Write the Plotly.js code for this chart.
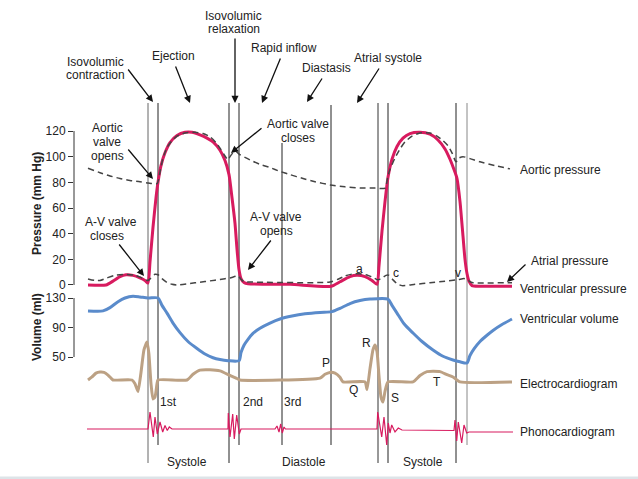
<!DOCTYPE html>
<html><head><meta charset="utf-8">
<script src="https://cdn.plot.ly/plotly-3.0.1.min.js"></script>
<style>html,body{margin:0;padding:0;background:#fff;}#chart{width:638px;height:479px;}</style>
</head><body><div id="chart"></div>
<script>
// ---- data (time in ms) ----
const pressureTicks = [0, 20, 40, 60, 80, 100, 120];
const volumeTicks = [50, 90, 130];

const vpTime = [0, 63, 87.5, 112, 133, 157.5, 182, 199.5, 210, 217, 227.5, 238, 245, 255.5, 269.5, 287, 311.5, 339.5, 364, 392, 416.5, 437.5, 462, 479.5, 493.5, 504, 514.5, 521.5, 528.5, 535.5, 546, 560, 707, 850.5, 882, 917, 941.5, 969.5, 994, 1011.5, 1018.5, 1029, 1039.5, 1050, 1064, 1081.5, 1102.5, 1127, 1162, 1197, 1225, 1249.5, 1267, 1281, 1291.5, 1302, 1312.5, 1319.5, 1326.5, 1333.5, 1344, 1372, 1484];
const vpValue = [0, 0, 3, 6.5, 8, 7.5, 5.5, 3.5, 1.5, 18, 45, 68, 80, 93, 103, 111, 116.5, 119, 119, 117, 114.5, 111.5, 105, 97, 86, 68, 48, 28, 12, 5, 2, 1, 0.5, -1, 2.5, 6.5, 7.5, 6.5, 3.5, 0.5, 15, 42, 65, 84, 98, 108, 114.5, 118, 119, 117.5, 113, 106, 98, 90, 83, 65, 38, 20, 9, 3, -0.5, -1, -1];

const aoTime = [0, 42, 77, 112, 147, 182, 210, 241.5, 252, 262.5, 276.5, 294, 311.5, 339.5, 374.5, 402.5, 427, 448, 465.5, 479.5, 490, 497, 507.5, 518, 532, 567, 602, 637, 672, 707, 752.5, 794.5, 847, 899.5, 952, 1004.5, 1039.5, 1050, 1057, 1074.5, 1092, 1109.5, 1134, 1162, 1197, 1221.5, 1242.5, 1260, 1274, 1288, 1298.5, 1312.5, 1337, 1372, 1424.5, 1477];
const aoValue = [91, 87.5, 85, 83, 81.5, 80.5, 79.5, 79, 88, 99, 107, 112.5, 116, 118.5, 119, 118, 115.5, 111, 105.5, 100.5, 97.5, 100, 103, 104, 101.5, 97.5, 94, 91.5, 88.5, 86, 83, 80.5, 78, 76.5, 75.6, 75.5, 75.5, 85, 90, 99, 106, 111.5, 116, 118.5, 118.5, 116, 112.5, 108.5, 103, 96, 99, 100, 98.5, 96, 93, 90.5];

const laTime = [0, 24.5, 42, 66.5, 94.5, 129.5, 164.5, 189, 210, 220.5, 234.5, 245, 259, 276.5, 294, 311.5, 357, 392, 427, 462, 497, 525, 535.5, 546, 567, 847, 875, 899.5, 924, 952, 980, 1001, 1015, 1029, 1043, 1053.5, 1067.5, 1081.5, 1099, 1144.5, 1197, 1249.5, 1295, 1316, 1326.5, 1337, 1347.5, 1484];
const laValue = [4.7, 3.5, 3.5, 5.5, 7.5, 8.2, 7.5, 5.5, 3.5, 5.5, 8.3, 8, 5, 2, 0.5, 0, 1.2, 2.2, 3.2, 4.3, 5.5, 7, 4.5, 2.5, 2.3, 2.3, 4.5, 7, 8.5, 8.7, 7.5, 5.5, 4, 5.5, 7.5, 7.5, 4, 1, -0.5, 0.5, 1.8, 3, 4.2, 5, 4.5, 2.5, 1.8, 1.8];

const volTime = [0, 52.5, 77, 105, 129.5, 157.5, 182, 210, 245, 259, 276.5, 297.5, 322, 350, 381.5, 409.5, 437.5, 462, 490, 528.5, 535.5, 546, 560, 577.5, 602, 637, 672, 714, 759.5, 812, 854, 882, 917, 952, 987, 1050, 1064, 1081.5, 1106, 1137.5, 1169, 1207.5, 1242.5, 1277.5, 1302, 1326.5, 1337, 1351, 1372, 1396.5, 1417.5, 1449, 1484];
const volValue = [112.5, 112.5, 117, 125, 130, 132.5, 131.5, 130, 130, 120, 109.5, 96, 83, 71, 61.5, 54, 49, 46.5, 45, 45, 56, 66, 74, 82, 89, 96, 101.5, 105.5, 108.5, 110.5, 111.5, 116, 122.5, 126.5, 128.5, 128.5, 120, 109.5, 95, 82.5, 71, 59.5, 51, 46, 43.5, 42, 52, 61, 71, 79.5, 86, 94, 101.5];

const ecgTime = [0, 14, 28, 42, 56, 70, 80.5, 87.5, 154, 164.5, 175, 185.5, 196, 206.5, 213, 220.5, 227.5, 234.5, 241.5, 245, 346.5, 367.5, 392, 427, 462, 497, 521.5, 532, 812, 829.5, 847, 864.5, 882, 892.5, 969.5, 976.5, 987, 997.5, 1004.5, 1011.5, 1018.5, 1025.5, 1032.5, 1039.5, 1050, 1137.5, 1162, 1186.5, 1232, 1256.5, 1277.5, 1302, 1484];
const ecgValue = [0, 0.08, 0.18, 0.21, 0.2, 0.13, 0.05, 0, 0, -0.1, -0.3, 0.2, 0.8, 1.0, 0.7, -0.1, -0.5, -0.45, -0.1, 0, 0, 0.15, 0.26, 0.27, 0.24, 0.12, 0.04, 0, 0.05, 0.15, 0.2, 0.18, 0.07, -0.05, -0.05, -0.25, 0.3, 0.8, 0.92, 0.75, 0.1, -0.45, -0.58, -0.3, -0.05, -0.05, 0.12, 0.22, 0.22, 0.14, 0.08, -0.05, -0.05];

const pcgTime = [-3.5, 210, 217, 228.5, 234.5, 242.5, 252, 261.5, 269.5, 277.5, 284.5, 294, 490, 491, 497, 506.5, 512, 520.5, 529.5, 535.5, 654.5, 661.5, 668.5, 674.5, 680, 686, 691, 1011.5, 1014, 1028, 1036, 1045.5, 1051, 1057, 1063, 1074.5, 1086, 1099, 1281, 1284.5, 1290.5, 1296, 1308, 1316, 1325.5, 1333.5, 1487.5];
const pcgValue = [0, 0, 1.7, -0.8, 1.2, -0.5, 0.7, -0.3, 0.35, -0.15, 0.2, 0, 0, 1.6, -0.8, 1.5, -1, 1.4, -0.5, 0, 0, 0.3, -0.3, 0.5, -0.4, 0.2, 0, 0, 1.7, -0.8, 1.2, -1.6, 0.6, -0.4, 0.4, -0.3, 0.1, -0.1, -0.15, 0.9, -1.2, 0.7, -1.4, 0.4, -0.4, -0.3, -0.3];

const eventTime = [210, 245, 493.5, 528.5, 679, 850.5, 1015, 1050, 1288, 1326.5];

// ---- layout helpers ----
const W = 638, H = 479, ML = 74;
const px = x => (x - ML) / (W - ML);
const py = y => 1 - y / H;
const FONT = 'Liberation Sans, Arial, sans-serif';
const TXT = '#222';
const RED = '#d81b5f';

const eventTop = [103, 103, 103, 103, 143, 105, 103, 103, 103, 103];
const eventBottom = [463, 445, 463, 445, 445, 445, 463, 463, 463, 445];
const eventColor = ['#666', '#222', '#222', '#222', '#222', '#222', '#333', '#222', '#222', '#888'];

const traces = [
  {x: volTime, y: volValue, yaxis: 'y2', mode: 'lines', line: {color: '#5a8bcb', width: 3, shape: 'spline', smoothing: 0.7}, hoverinfo: 'skip'},
  {x: ecgTime, y: ecgValue, yaxis: 'y3', mode: 'lines', line: {color: '#bca184', width: 3, shape: 'spline', smoothing: 0.5}, hoverinfo: 'skip'},
  {x: pcgTime, y: pcgValue, yaxis: 'y4', mode: 'lines', line: {color: RED, width: 1.2}, hoverinfo: 'skip'},
  {x: vpTime, y: vpValue, yaxis: 'y', mode: 'lines', line: {color: RED, width: 3, shape: 'spline', smoothing: 0.6}, hoverinfo: 'skip'},
  {x: aoTime, y: aoValue, yaxis: 'y', mode: 'lines', line: {color: '#444', width: 1.5, dash: '6px,4px', shape: 'spline', smoothing: 0.6}, hoverinfo: 'skip'},
  {x: laTime, y: laValue, yaxis: 'y', mode: 'lines', line: {color: '#444', width: 1.5, dash: '6px,4px', shape: 'spline', smoothing: 0.6}, hoverinfo: 'skip'}
];

const shapes = [];
eventTime.forEach((t, i) => {
  shapes.push({type: 'line', xref: 'x', yref: 'paper', x0: t, x1: t, y0: py(eventBottom[i]), y1: py(eventTop[i]),
    line: {color: eventColor[i], width: 1}, layer: 'below'});
});
shapes.push({type: 'line', xref: 'paper', yref: 'y', x0: 0, x1: 0, y0: pressureTicks[0], y1: pressureTicks[pressureTicks.length - 1], line: {color: '#333', width: 1}});
shapes.push({type: 'line', xref: 'paper', yref: 'y2', x0: 0, x1: 0, y0: volumeTicks[0], y1: volumeTicks[volumeTicks.length - 1], line: {color: '#333', width: 1}});
shapes.push({type: 'rect', xref: 'paper', yref: 'paper', x0: -1, x1: 1, y0: 0, y1: 2.5 / H, line: {width: 0}, fillcolor: '#dde4e8'});

// text labels: [text, x px, y px, anchor]
const labels = [
  ['Isovolumic', 95, 62, 'center'], ['contraction', 95, 75, 'center'],
  ['Ejection', 173, 56, 'center'],
  ['Isovolumic', 233, 16, 'center'], ['relaxation', 234, 29, 'center'],
  ['Rapid inflow', 284, 48, 'center'],
  ['Diastasis', 326, 68, 'center'],
  ['Atrial systole', 388, 58, 'center'],
  ['Aortic', 107, 128, 'center'], ['valve', 107, 142, 'center'], ['opens', 107, 156, 'center'],
  ['A-V valve', 111, 222, 'center'], ['closes', 107, 236, 'center'],
  ['Aortic valve', 298, 124, 'center'], ['closes', 298, 138, 'center'],
  ['A-V valve', 276, 217, 'center'], ['opens', 276, 231, 'center'],
  ['a', 359, 269, 'center'], ['c', 396, 273, 'center'], ['v', 458, 273, 'center'],
  ['Aortic pressure', 518, 170, 'left'],
  ['Atrial pressure', 529, 261, 'left'],
  ['Ventricular pressure', 518, 289, 'left'],
  ['Ventricular volume', 518, 319, 'left'],
  ['Electrocardiogram', 518, 384, 'left'],
  ['Phonocardiogram', 518, 432, 'left'],
  ['P', 326, 363, 'center'], ['Q', 353, 390, 'center'], ['R', 366, 343, 'center'],
  ['S', 395, 398, 'center'], ['T', 437, 382, 'center'],
  ['1st', 168, 402, 'center'], ['2nd', 253, 402, 'center'], ['3rd', 292, 402, 'center'],
  ['Systole', 187, 462, 'center'], ['Diastole', 304, 462, 'center'], ['Systole', 423, 462, 'center']
];
// arrows: [tail x, tail y, head x, head y]
const arrows = [
  [127, 68, 153, 102], [175, 65, 190, 103], [235, 37, 235, 103], [281, 57, 262, 103],
  [323, 77, 307, 102], [380, 67, 357, 103], [127, 148, 153, 179], [263, 127, 231, 153],
  [272, 239, 248, 270], [118, 243, 144, 276], [527, 263, 507, 282]
];

const annotations = [];
labels.forEach(l => annotations.push({text: l[0], xref: 'paper', yref: 'paper', x: px(l[1]), y: py(l[2]),
  xanchor: l[3], yanchor: 'middle', showarrow: false, font: {family: FONT, size: 12, color: TXT}}));
arrows.forEach(a => annotations.push({text: '', xref: 'paper', yref: 'paper', x: px(a[2]), y: py(a[3]),
  ax: a[0] - a[2], ay: a[1] - a[3], showarrow: true, arrowhead: 2, arrowsize: 1.1, arrowwidth: 1.3, arrowcolor: '#111'}));
annotations.push({text: '<b>Pressure (mm Hg)</b>', xref: 'paper', yref: 'paper', x: px(37), y: py(204), textangle: -90,
  showarrow: false, xanchor: 'center', yanchor: 'middle', font: {family: FONT, size: 12, color: TXT}});
annotations.push({text: '<b>Volume (ml)</b>', xref: 'paper', yref: 'paper', x: px(37), y: py(327), textangle: -90,
  showarrow: false, xanchor: 'center', yanchor: 'middle', font: {family: FONT, size: 12, color: TXT}});

const axCommon = {ticks: 'outside', ticklen: 5, tickwidth: 1, tickcolor: '#333', showgrid: false, zeroline: false, showline: false,
  tickfont: {family: FONT, size: 12, color: TXT}, fixedrange: true};

const layout = {
  width: W, height: H, margin: {l: ML, r: 0, t: 0, b: 0, pad: 0},
  paper_bgcolor: '#fff', plot_bgcolor: '#fff', showlegend: false,
  xaxis: {range: [-49, 1925], visible: false, fixedrange: true},
  yaxis: Object.assign({range: [-151.2, 222.1], tickvals: pressureTicks}, axCommon),
  yaxis2: Object.assign({range: [-115.42, 534.07], tickvals: volumeTicks, overlaying: 'y', side: 'left', anchor: 'x'}, axCommon),
  yaxis3: {range: [-2.605, 10], overlaying: 'y', visible: false, fixedrange: true},
  yaxis4: {range: [-5, 42.9], overlaying: 'y', visible: false, fixedrange: true},
  shapes: shapes, annotations: annotations
};

Plotly.newPlot('chart', traces, layout, {displayModeBar: false, staticPlot: true});
</script>
</body></html>
